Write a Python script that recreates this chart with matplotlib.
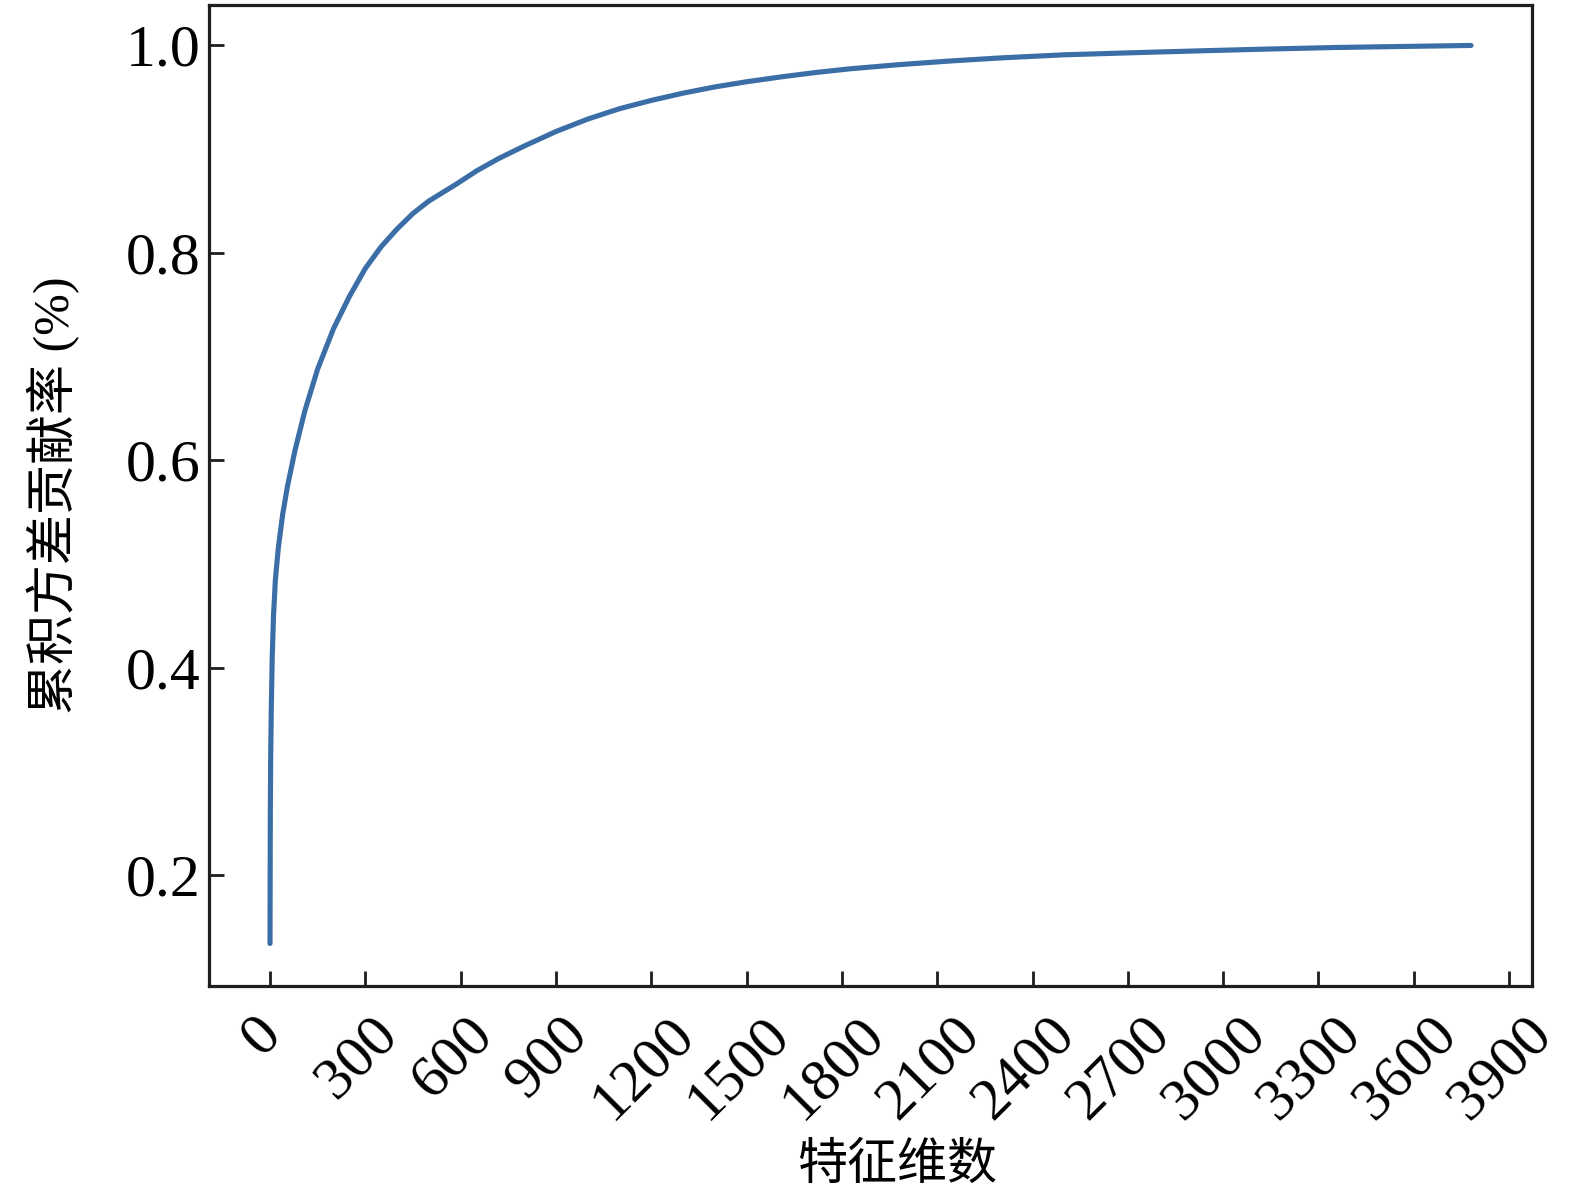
import matplotlib
matplotlib.use('Agg')
import matplotlib.pyplot as plt
from matplotlib.transforms import ScaledTranslation

# cumulative explained variance
dims = [0, 1, 2, 4, 7, 11, 17, 26, 40, 55, 79, 110, 150, 200, 250, 300,
        350, 400, 450, 500, 585, 650, 720, 800, 900, 1000, 1100, 1200,
        1300, 1400, 1500, 1616, 1720, 1826, 1980, 2140, 2300, 2500, 2717,
        2950, 3137, 3350, 3557, 3780]
ratio = [0.134, 0.26, 0.31, 0.36, 0.41, 0.45, 0.485, 0.515, 0.548, 0.575,
         0.610, 0.648, 0.688, 0.727, 0.758, 0.785, 0.806, 0.823, 0.838,
         0.850, 0.866, 0.879, 0.891, 0.903, 0.917, 0.929, 0.939, 0.947,
         0.954, 0.960, 0.965, 0.970, 0.974, 0.9775, 0.9815, 0.985, 0.988,
         0.991, 0.993, 0.995, 0.9965, 0.998, 0.999, 1.0]

xticks = list(range(0, 3901, 300))
yticks = [0.2, 0.4, 0.6, 0.8, 1.0]

serif = ['Liberation Serif', 'Noto Sans CJK SC']
plt.rcParams['font.family'] = serif

fig = plt.figure(figsize=(15.75, 11.93), dpi=100)
ax = fig.add_axes([0.1327, 0.1735, 0.84, 0.8223])

ax.plot(dims, ratio, color='#3b6ea6', linewidth=3.7,
        solid_capstyle='round', solid_joinstyle='round')

ax.set_xlim(-192, 3972)
ax.set_ylim(0.093, 1.039)
ax.set_xticks(xticks)
ax.set_yticks(yticks)
ax.set_yticklabels(['%.1f' % v for v in yticks])
ax.set_xticklabels([str(v) for v in xticks], rotation=45, ha='center')

for s in ax.spines.values():
    s.set_linewidth(2.3)
    s.set_color('#1e1e1e')
ax.tick_params(axis='both', direction='in', length=11, width=2.0,
               color='#1e1e1e', labelsize=43)
ax.tick_params(axis='x', pad=15)
ax.tick_params(axis='y', pad=6)

# nudge rotated x labels slightly left, as in the source figure
shift = ScaledTranslation(-8 / 100, 0, fig.dpi_scale_trans)
for lab in ax.get_xticklabels():
    lab.set_transform(lab.get_transform() + shift)

ax.set_xlabel('特征维数', fontsize=36, family=serif)
ax.set_ylabel('累积方差贡献率 (%)', fontsize=36, family=serif)
ax.xaxis.set_label_coords(0.52, -0.16)
ax.yaxis.set_label_coords(-0.0975, 0.5)

fig.savefig('out.png', dpi=100)
